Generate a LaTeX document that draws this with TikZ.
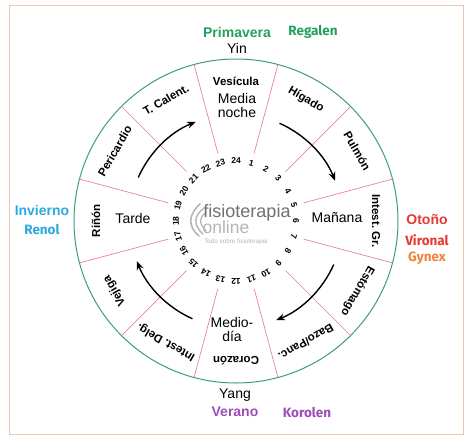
\documentclass[tikz,border=0pt]{standalone}
\usepackage{fontspec}
\setmainfont{Liberation Sans}
\newfontfamily\markfont{Fira Sans}
\usepackage{tikz}
\usetikzlibrary{arrows.meta}
\frenchspacing

\definecolor{ringgreen}{HTML}{3E9B7E}
\definecolor{spokered}{HTML}{E8868A}
\definecolor{framepink}{HTML}{F2C4B4}
\definecolor{springgreen}{HTML}{22A05C}
\definecolor{autumnred}{HTML}{E53A2F}
\definecolor{autumnorange}{HTML}{F0843C}
\definecolor{winterblue}{HTML}{2BA8E0}
\definecolor{summerpurple}{HTML}{9E4DB8}
\definecolor{logogray}{HTML}{707070}
\definecolor{logolight}{HTML}{B4B4B4}

\tikzset{
  organ/.style={font=\bfseries\fontsize{11.5}{12}\selectfont, inner sep=1pt},
  hour/.style={font=\bfseries\fontsize{8.5}{9}\selectfont, inner sep=0pt},
  phase/.style={font=\fontsize{14}{16}\selectfont, align=center, inner sep=1pt},
  season/.style={font=\bfseries\fontsize{14}{16}\selectfont, inner sep=1pt},
  brand/.style={font=\markfont\bfseries\fontsize{13.5}{15}\selectfont, inner sep=1pt},
  turnarrow/.style={line width=1.4pt, -{Stealth[length=9pt,width=7pt]}}
}

\begin{document}
\begin{tikzpicture}[x=1pt,y=1pt]
	\useasboundingbox (-236,-219) rectangle (234,221);
	\draw[framepink, line width=0.8pt] (-227,216) rectangle (227,-213);

	% clock face
	\draw[ringgreen, line width=1pt] (0,0) circle (162);
	\foreach \a in {15,45,...,345}
		\draw[spokered, line width=0.7pt] (90-\a:70) -- (90-\a:162);

	% hours round the centre
	\foreach \n in {1,...,24}
		\node[hour, rotate=-15*\n] (h\n) at (90-15*\n:60) {\n};

	% organs
	\foreach \lbl [count=\k from 0] in {Vesícula, Hígado, Pulmón, Intest. Gr., Estómago, Bazo/Panc., Corazón, Intest. Delg., Vejiga, Riñón, Pericardio, T. Calent.}
		\node[organ, rotate=-30*\k] (o\k) at (90-30*\k:140) {\lbl};

	% flow arrows
	\foreach \s in {0,90,180,270}
		\draw[turnarrow] (66-\s:107) arc[start angle=66-\s, end angle=22-\s, radius=107];

	\node[phase] (night) at (1,116) {Media\\[-2pt]noche};
	\node[phase] (morning) at (101,3) {Mañana};
	\node[phase] (noon) at (-4,-108) {Medio-\\[-2pt]día};
	\node[phase] (evening) at (-103,3) {Tarde};

	% seasons
	\node[season, springgreen] (spring) at (1,189) {Primavera};
	\node[brand, springgreen] (regalen) at (77,189) {Regalen};
	\node[phase] (yin) at (1,173) {Yin};
	\node[season, autumnred] (autumn) at (191,1) {Otoño};
	\node[brand, autumnred] (vironal) at (191,-19) {Vironal};
	\node[brand, autumnorange] (gynex) at (191,-37) {Gynex};
	\node[season, winterblue] (winter) at (-194,11) {Invierno};
	\node[brand, winterblue] (renol) at (-194,-8) {Renol};
	\node[phase] (yang) at (-1,-174) {Yang};
	\node[season, summerpurple] (summer) at (-1,-191) {Verano};
	\node[brand, summerpurple] (korolen) at (71,-191) {Korolen};

	% logo
	\draw[logolight, line width=1.6pt, line cap=round] (-37,-15) .. controls (-50,-4) and (-46,8) .. (-36,17);
	\draw[logolight, line width=1.4pt, line cap=round] (-33,-13) .. controls (-44,-3) and (-41,6) .. (-33,12);
	\draw[logolight, line width=1.2pt, line cap=round] (-30,-10) .. controls (-38,-2) and (-36,4) .. (-31,8);
	\node[font=\fontsize{18}{20}\selectfont, logogray, inner sep=0pt] (logo) at (11,8) {fisioterapia};
	\node[font=\fontsize{17.5}{20}\selectfont, logolight, inner sep=0pt] (logo2) at (-10,-6) {online};
	\node[font=\fontsize{6.3}{7}\selectfont, logolight, inner sep=0pt] (logo3) at (0,-21) {Todo sobre fisioterapia};
\end{tikzpicture}
\end{document}
